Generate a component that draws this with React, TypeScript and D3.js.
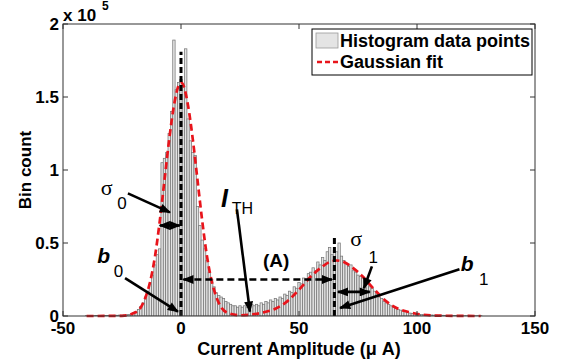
import React from 'react';
import * as d3 from 'd3';

// Histogram (bin width 1 µA, first bin centre -40 µA), counts in units of 10^5
const binStart = -40;
const binWidth = 1;
const binCounts: number[] = [
  0.002, 0.002, 0.003, 0.002, 0.003, 0.003, 0.002, 0.003, 0.004, 0.003, 0.004, 0.004, 0.005, 0.005, 0.006,
  0.006, 0.007, 0.009, 0.011, 0.014, 0.02, 0.03, 0.045, 0.065, 0.09,
  0.13, 0.17, 0.22, 0.28, 0.35, 0.42, 0.46,
  1.05, 1.08, 1.12, 1.25, 1.4, 1.89, 1.55, 1.6,
  1.62, 1.58, 1.83, 1.35, 1.2, 1.12, 1.1, 0.75, 0.62,
  0.52, 0.46, 0.38, 0.3, 0.25, 0.2, 0.16, 0.14, 0.13, 0.12, 0.1, 0.09,
  0.08, 0.07, 0.07, 0.06, 0.07, 0.06, 0.07, 0.06, 0.07, 0.08, 0.07, 0.08, 0.07, 0.09, 0.08, 0.1, 0.09, 0.11, 0.1, 0.12,
  0.11, 0.13, 0.12, 0.15, 0.14, 0.17, 0.16, 0.2, 0.19, 0.23, 0.22, 0.26, 0.25, 0.29, 0.3, 0.33, 0.31, 0.37, 0.35, 0.4,
  0.38, 0.44, 0.47, 0.42, 0.45, 0.44, 0.5, 0.41, 0.38, 0.36, 0.34, 0.35, 0.31, 0.3, 0.28, 0.27, 0.26, 0.24, 0.22, 0.2,
  0.19, 0.17, 0.15, 0.13, 0.12, 0.1, 0.09, 0.08, 0.07, 0.06, 0.05, 0.045, 0.04, 0.035, 0.03, 0.025, 0.02, 0.018, 0.015, 0.012,
  0.01, 0.01, 0.009, 0.008, 0.008, 0.007, 0.006, 0.006, 0.005, 0.005, 0.005, 0.004, 0.004, 0.004, 0.003, 0.003, 0.003, 0.003,
  0.002, 0.002, 0.002, 0.002, 0.002, 0.002, 0.002, 0.002, 0.002,
];

// Gaussian fit curve (x in µA, y in 10^5)
const fitX: number[] = [-40, -25, -20, -17, -15, -13, -11, -9, -7, -5, -3, -1, 0, 1, 3, 5, 7, 9, 11, 13, 15, 17, 20, 25, 30, 35, 40, 45, 50, 55, 60, 63, 66, 69, 72, 77, 82, 87, 92, 97, 102, 110, 127];
const fitY: number[] = [0, 0.001, 0.02, 0.06, 0.13, 0.24, 0.41, 0.65, 0.93, 1.21, 1.44, 1.58, 1.6, 1.58, 1.44, 1.21, 0.93, 0.65, 0.41, 0.24, 0.13, 0.06, 0.02, 0.005, 0.01, 0.025, 0.05, 0.1, 0.18, 0.27, 0.34, 0.37, 0.38, 0.37, 0.34, 0.27, 0.18, 0.1, 0.05, 0.025, 0.01, 0.002, 0];

const xTicks: number[] = [-50, 0, 50, 100, 150];
const yTicks: number[] = [0, 0.5, 1, 1.5, 2];
const yTickLabels: string[] = ['0', '0.5', '1', '1.5', '2'];

// Peak markers
const peakMeans: number[] = [0, 65];
const peakMarkerTops: number[] = [1.81, 0.54];

const W = 562;
const H = 360;
const left = 63;
const right = 535;
const top = 24;
const bottom = 316;

const FONT = "'Liberation Sans', Arial, sans-serif";

export default function App() {
  const x = d3.scaleLinear().domain([-50, 150]).range([left, right]);
  const y = d3.scaleLinear().domain([0, 2]).range([bottom, top]);

  const bins = binCounts.map((c, i) => ({ x0: binStart + i * binWidth - binWidth / 2, c }));
  const fitLine = d3
    .line<number>()
    .x((_, i) => x(fitX[i]))
    .y((d) => y(d))
    .curve(d3.curveMonotoneX)(fitY) as string;

  const tick = 5;
  const lg = { x: right - 223, y: top + 5, w: 220, h: 46 };

  const arrow = (x1: number, y1: number, x2: number, y2: number, opts: { dashed?: boolean; both?: boolean } = {}) => (
    <line
      x1={x(x1)}
      y1={y(y1)}
      x2={x(x2)}
      y2={y(y2)}
      stroke="#000"
      strokeWidth={2.6}
      strokeDasharray={opts.dashed ? '7,4' : undefined}
      markerEnd="url(#ah)"
      markerStart={opts.both ? 'url(#ah)' : undefined}
    />
  );

  return (
    <svg width={W} height={H} style={{ position: 'absolute', left: 0, top: 0, background: '#fff' }} fontFamily={FONT}>
      <defs>
        <marker id="ah" viewBox="0 0 10 8" refX="9" refY="4" markerWidth="12" markerHeight="9" markerUnits="userSpaceOnUse" orient="auto-start-reverse">
          <path d="M0,0 L10,4 L0,8 z" fill="#000" />
        </marker>
        <clipPath id="plot">
          <rect x={left} y={top} width={right - left} height={bottom - top} />
        </clipPath>
      </defs>
      <rect x={0} y={0} width={W} height={H} fill="#fff" />

      {/* histogram */}
      <g clipPath="url(#plot)">
        {bins.map((b, i) => (
          <rect
            key={i}
            x={x(b.x0)}
            y={y(b.c)}
            width={x(b.x0 + binWidth) - x(b.x0)}
            height={y(0) - y(b.c)}
            fill="#e4e4e4"
            stroke="#777"
            strokeWidth={0.75}
          />
        ))}
      </g>

      {/* gaussian fit */}
      <path d={fitLine} fill="none" stroke="#e8141b" strokeWidth={2.7} strokeDasharray="7,4" />

      {/* peak markers */}
      {peakMeans.map((m, i) => (
        <line key={i} x1={x(m)} x2={x(m)} y1={y(0)} y2={y(peakMarkerTops[i])} stroke="#000" strokeWidth={3} strokeDasharray="6,3" />
      ))}

      {/* annotations */}
      {arrow(1, 0.25, 64, 0.25, { dashed: true, both: true })}
      {arrow(-9, 0.62, -0.5, 0.62, { both: true })}
      {arrow(66.5, 0.165, 80, 0.165, { both: true })}
      {arrow(-22.5, 0.84, -4.7, 0.71)}
      {arrow(-23.7, 0.26, -1.3, 0.03)}
      {arrow(23.7, 0.73, 29.2, 0.03)}
      {arrow(80.9, 0.34, 77.5, 0.19)}
      {arrow(118, 0.32, 67.4, 0.055)}

      <text x={x(-31.5)} y={y(0.83)} fontSize={22} textAnchor="middle" fontFamily="'Liberation Serif', serif">σ</text>
      <text x={x(-27)} y={y(0.735)} fontSize={17}>0</text>
      <text x={x(-35.5)} y={y(0.36)} fontSize={21} fontWeight="bold" fontStyle="italic">b</text>
      <text x={x(-28.5)} y={y(0.265)} fontSize={17}>0</text>
      <text x={x(17)} y={y(0.75)} fontSize={25} fontWeight="bold" fontStyle="italic">I</text>
      <text x={x(21.5)} y={y(0.7)} fontSize={16}>TH</text>
      <text x={x(40.3)} y={y(0.336)} fontSize={19} fontWeight="bold" textAnchor="middle">(A)</text>
      <text x={x(74.2)} y={y(0.48)} fontSize={22} textAnchor="middle" fontFamily="'Liberation Serif', serif">σ</text>
      <text x={x(79.5)} y={y(0.36)} fontSize={17}>1</text>
      <text x={x(118.5)} y={y(0.31)} fontSize={21} fontWeight="bold" fontStyle="italic">b</text>
      <text x={x(126.3)} y={y(0.21)} fontSize={17}>1</text>

      {/* axes box */}
      <rect x={left} y={top} width={right - left} height={bottom - top} fill="none" stroke="#333" strokeWidth={1} />
      {xTicks.map((t) => (
        <g key={'x' + t}>
          <line x1={x(t)} x2={x(t)} y1={bottom} y2={bottom - tick} stroke="#333" />
          <line x1={x(t)} x2={x(t)} y1={top} y2={top + tick} stroke="#333" />
          <text x={x(t)} y={bottom + 18} fontSize={17} fontWeight="bold" textAnchor="middle">{t}</text>
        </g>
      ))}
      {yTicks.map((t, i) => (
        <g key={'y' + t}>
          <line x1={left} x2={left + tick} y1={y(t)} y2={y(t)} stroke="#333" />
          <line x1={right} x2={right - tick} y1={y(t)} y2={y(t)} stroke="#333" />
          <text x={left - 4} y={y(t)} dy="0.36em" fontSize={17} fontWeight="bold" textAnchor="end">{yTickLabels[i]}</text>
        </g>
      ))}
      <text x={left} y={top - 3} fontSize={17} fontWeight="bold">x 10</text>
      <text x={left + 39} y={top - 14} fontSize={12} fontWeight="bold">5</text>

      <text x={(left + right) / 2} y={355} fontSize={18} fontWeight="bold" textAnchor="middle">Current Amplitude (μ A)</text>
      <text transform={`translate(31, ${(top + bottom) / 2}) rotate(-90)`} fontSize={17} fontWeight="bold" textAnchor="middle">Bin count</text>

      {/* legend */}
      <rect x={lg.x} y={lg.y} width={lg.w} height={lg.h} fill="#fff" stroke="#000" strokeWidth={1} />
      <rect x={lg.x + 4} y={lg.y + 4} width={22} height={15} fill="#e4e4e4" stroke="#999" strokeWidth={0.8} />
      <text x={lg.x + 28} y={lg.y + 18} fontSize={18} fontWeight="bold">Histogram data points</text>
      <line x1={lg.x + 5} x2={lg.x + 26} y1={lg.y + 33} y2={lg.y + 33} stroke="#e8141b" strokeWidth={2.6} strokeDasharray="5,3" />
      <text x={lg.x + 28} y={lg.y + 39} fontSize={18} fontWeight="bold">Gaussian fit</text>
    </svg>
  );
}
